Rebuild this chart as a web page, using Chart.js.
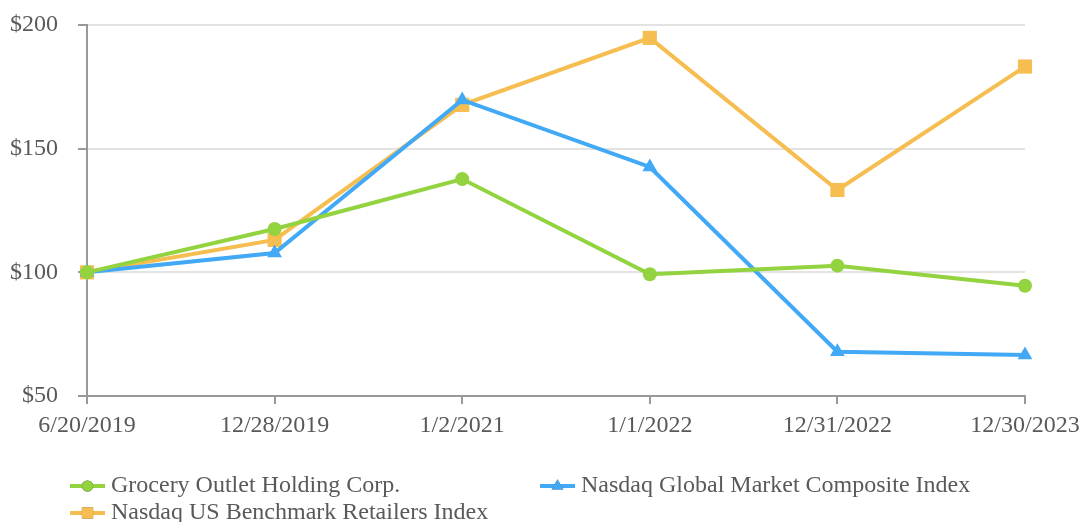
<!DOCTYPE html>
<html>
<head>
<meta charset="utf-8">
<script src="https://cdn.jsdelivr.net/npm/chart.js@4.4.0/dist/chart.umd.min.js"></script>
<style>
html,body{margin:0;padding:0;background:#fff;}
#wrap{width:1080px;height:522px;position:relative;}
</style>
</head>
<body>
<div id="wrap"><canvas id="c" width="1080" height="522"></canvas></div>
<script>
const categories = ["6/20/2019", "12/28/2019", "1/2/2021", "1/1/2022", "12/31/2022", "12/30/2023"];
const groceryOutlet = [100, 117.5, 137.7, 99.2, 102.7, 94.6];
const nasdaqGlobal = [100, 107.8, 169.7, 142.6, 67.9, 66.6];
const nasdaqRetail = [100, 113.1, 167.7, 194.8, 133.3, 183.2];
const seriesNames = ["Grocery Outlet Holding Corp.", "Nasdaq Global Market Composite Index", "Nasdaq US Benchmark Retailers Index"];
const yTicks = [50, 100, 150, 200];

const GREEN = "#92d33f", BLUE = "#41a9f5", ORANGE = "#f6be50";
const FONT = "'Liberation Serif', 'Times New Roman', serif";
const TXT = "#595959";

const legendPlugin = {
  id: 'customLegend',
  afterDraw(chart) {
    const ctx = chart.ctx;
    const items = [
      {ds: 0, x: 70, y: 486},
      {ds: 1, x: 540, y: 486},
      {ds: 2, x: 70, y: 513}
    ];
    ctx.save();
    items.forEach(it => {
      const d = chart.data.datasets[it.ds];
      ctx.strokeStyle = d.borderColor;
      ctx.lineWidth = 4;
      ctx.beginPath();
      ctx.moveTo(it.x, it.y);
      ctx.lineTo(it.x + 35, it.y);
      ctx.stroke();
      Chart.helpers.drawPoint(ctx, {pointStyle: d.pointStyle, radius: d.pointRadius * 0.8, borderWidth: 0}, it.x + 17.5, it.y);
      ctx.fillStyle = d.backgroundColor;
      ctx.fill();
      ctx.fillStyle = TXT;
      ctx.font = "24px " + FONT;
      ctx.textBaseline = "middle";
      ctx.textAlign = "left";
      ctx.fillText(d.label, it.x + 41, it.y);
    });
    ctx.restore();
  }
};

new Chart(document.getElementById('c'), {
  type: 'line',
  data: {
    labels: categories,
    datasets: [
      {label: seriesNames[0], data: groceryOutlet, borderColor: GREEN, backgroundColor: GREEN, pointStyle: 'circle', pointRadius: 7, borderWidth: 4, pointBorderWidth: 0, tension: 0},
      {label: seriesNames[1], data: nasdaqGlobal, borderColor: BLUE, backgroundColor: BLUE, pointStyle: 'triangle', pointRadius: 8.5, borderWidth: 4, pointBorderWidth: 0, tension: 0},
      {label: seriesNames[2], data: nasdaqRetail, borderColor: ORANGE, backgroundColor: ORANGE, pointStyle: 'rect', pointRadius: 10, borderWidth: 4, pointBorderWidth: 0, tension: 0}
    ]
  },
  options: {
    responsive: false,
    animation: false,
    layout: {padding: {left: 0, right: 55, top: 25, bottom: 0}},
    plugins: {legend: {display: false}, tooltip: {enabled: false}},
    scales: {
      x: {
        offset: false,
        grid: {drawOnChartArea: false, drawTicks: true, tickLength: 8, tickColor: '#999', lineWidth: 2},
        border: {color: '#999', width: 2},
        ticks: {color: TXT, font: {family: FONT, size: 24}, padding: 7, maxRotation: 0, autoSkip: false},
        afterFit(s) { s.height = 126; s.paddingLeft = 0; s.paddingRight = 0; }
      },
      y: {
        min: 50, max: 200,
        afterBuildTicks(s) { s.ticks = yTicks.map(v => ({value: v})); },
        grid: {color: '#e3e3e3', lineWidth: 2, tickLength: 9, tickColor: '#999'},
        border: {color: '#999', width: 2},
        ticks: {color: TXT, font: {family: FONT, size: 24}, padding: 20, callback: v => '$' + v},
        afterFit(s) { s.width = 87; s.paddingTop = 0; s.paddingBottom = 0; }
      }
    }
  },
  plugins: [legendPlugin]
});
</script>
</body>
</html>
